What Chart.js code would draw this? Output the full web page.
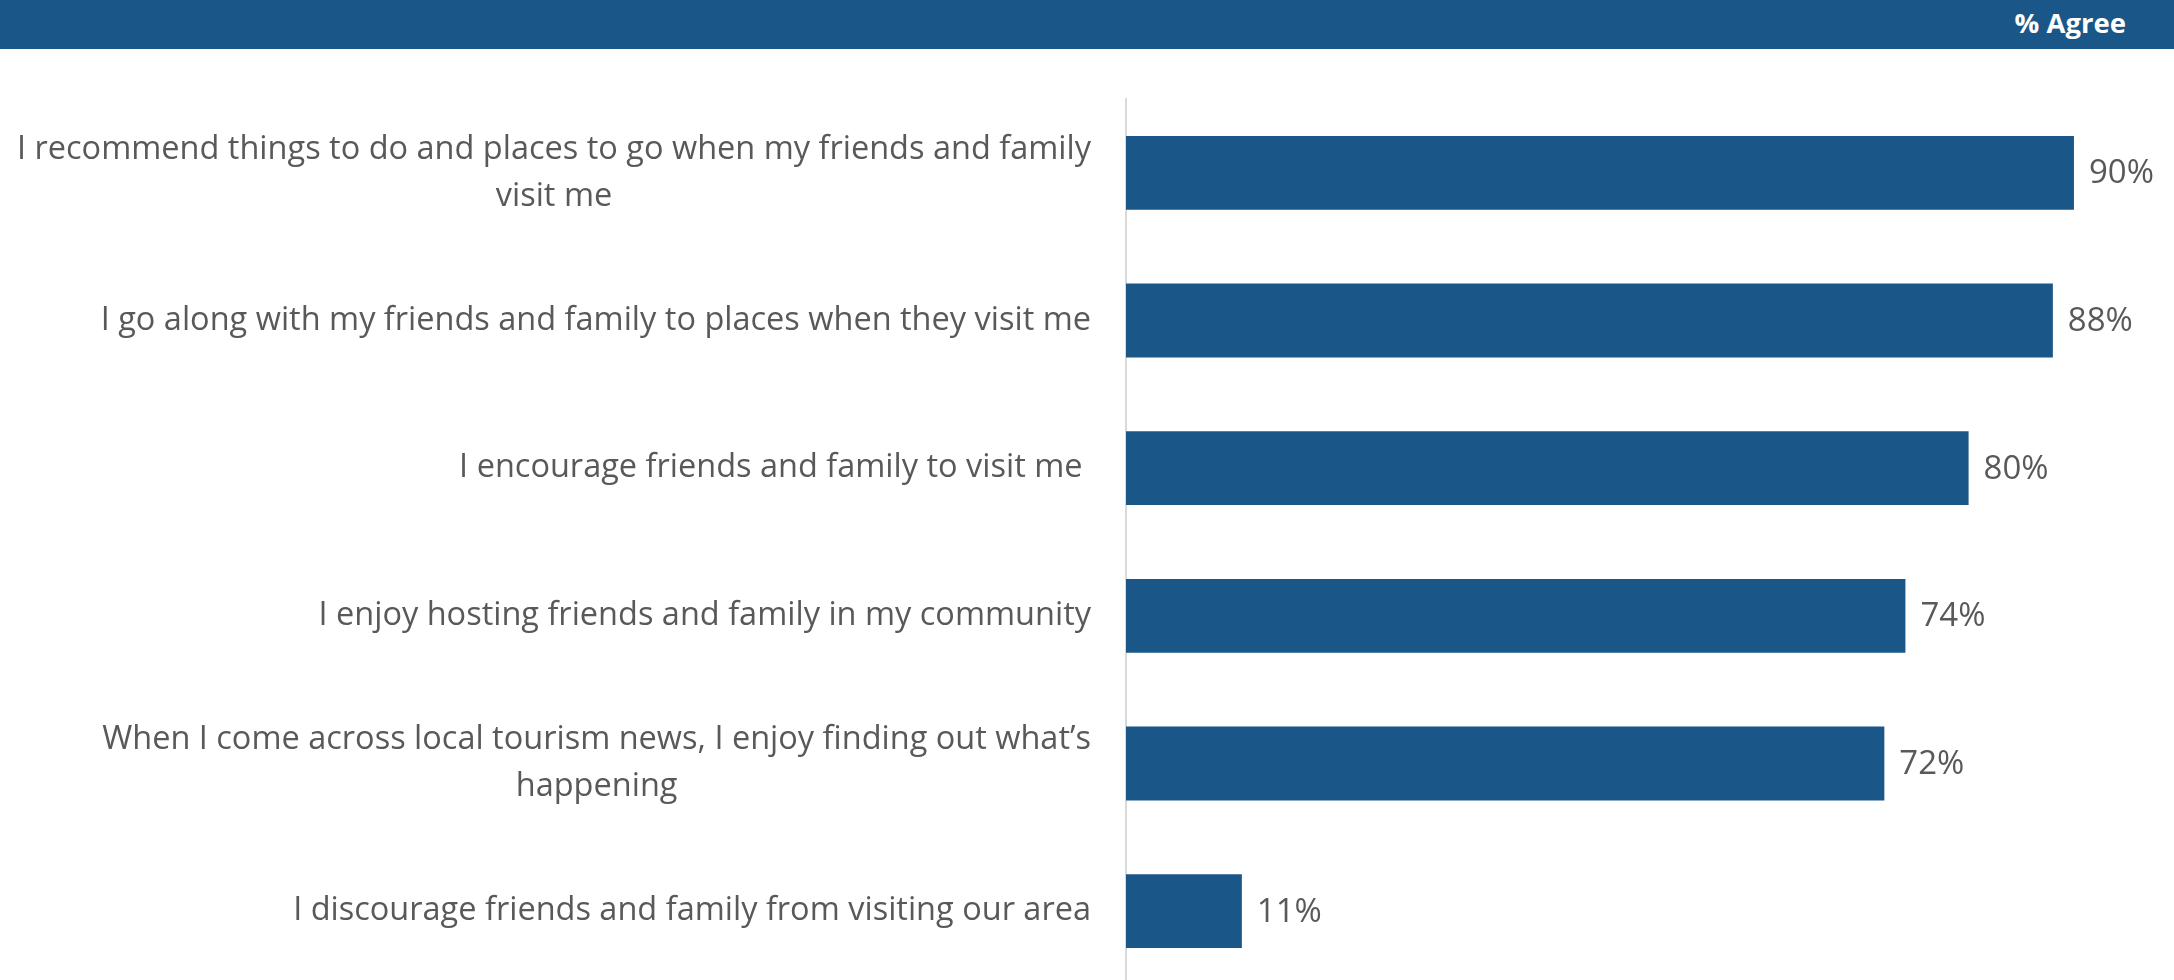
<!DOCTYPE html>
<html>
<head>
<meta charset="utf-8">
<script src="https://cdn.jsdelivr.net/npm/chart.js@4"></script>
<style>
  html, body { margin: 0; padding: 0; background: #fff; overflow: hidden; }
  #wrap { position: relative; width: 2174px; height: 990px; }
  #header {
    position: absolute; left: 0; top: 0; width: 2174px; height: 49px;
    background: #1a5788; z-index: 2;
  }
  #header span {
    position: absolute; right: 48px; top: 4px;
    font: bold 27.5px "Open Sans", sans-serif; color: #fff;
  }
  canvas { position: absolute; left: 0; top: 0; }
</style>
</head>
<body>
<div id="wrap">
  <div id="header"><span>% Agree</span></div>
  <canvas id="agreeChart" width="2174" height="990"></canvas>
</div>
<script>
const statements = [
    ['I recommend things to do and places to go when my friends and family', 'visit me'],
    ['I go along with my friends and family to places when they visit me'],
    ['I encourage friends and family to visit me '],
    ['I enjoy hosting friends and family in my community'],
    ['When I come across local tourism news, I enjoy finding out what\u2019s', 'happening'],
    ['I discourage friends and family from visiting our area']
];
const agreePct = [90, 88, 80, 74, 72, 11];

const BLUE = '#1a5788';
const GREY_TEXT = '#595959';
const LABEL_FONT = '32.5px "Open Sans", sans-serif';
const VALUE_FONT = '33px "Open Sans", sans-serif';

// statement text on the left; first line right-aligned, wrapped lines centred under it
const statementLabels = {
    id: 'statementLabels',
    afterDraw(chart) {
        const { ctx, chartArea } = chart;
        const yScale = chart.scales.y;
        const right = chartArea.left - 35;
        const lineH = 47;
        ctx.save();
        ctx.font = LABEL_FONT;
        ctx.fillStyle = GREY_TEXT;
        ctx.textAlign = 'center';
        ctx.textBaseline = 'middle';
        statements.forEach((lines, i) => {
            const yc = yScale.getPixelForValue(i);
            const cx = right - ctx.measureText(lines[0]).width / 2;
            const y0 = yc - (lines.length - 1) * lineH / 2;
            lines.forEach((l, j) => ctx.fillText(l, cx, y0 + j * lineH));
        });
        ctx.restore();
    }
};

// percentage printed just past the end of each bar
const valueLabels = {
    id: 'valueLabels',
    afterDatasetsDraw(chart) {
        const { ctx } = chart;
        const meta = chart.getDatasetMeta(0);
        ctx.save();
        ctx.font = VALUE_FONT;
        ctx.fillStyle = GREY_TEXT;
        ctx.textAlign = 'left';
        ctx.textBaseline = 'middle';
        meta.data.forEach((bar, i) => {
            ctx.fillText(agreePct[i] + '%', bar.x + 15, bar.y + 1);
        });
        ctx.restore();
    }
};

new Chart(document.getElementById('agreeChart'), {
    type: 'bar',
    data: {
        labels: statements.map(s => s.join(' ')),
        datasets: [{
            data: agreePct,
            backgroundColor: BLUE,
            categoryPercentage: 1,
            barPercentage: 0.5
        }]
    },
    options: {
        indexAxis: 'y',
        responsive: false,
        animation: false,
        layout: { padding: { left: 1126, top: 99, bottom: 5, right: 0 } },
        plugins: {
            legend: { display: false },
            tooltip: { enabled: false }
        },
        scales: {
            x: { display: false, min: 0, max: 99.5 },
            y: {
                grid: { display: false, drawTicks: false },
                ticks: { display: false },
                border: { color: '#d9d9d9', width: 2 }
            }
        }
    },
    plugins: [statementLabels, valueLabels]
});
</script>
</body>
</html>
